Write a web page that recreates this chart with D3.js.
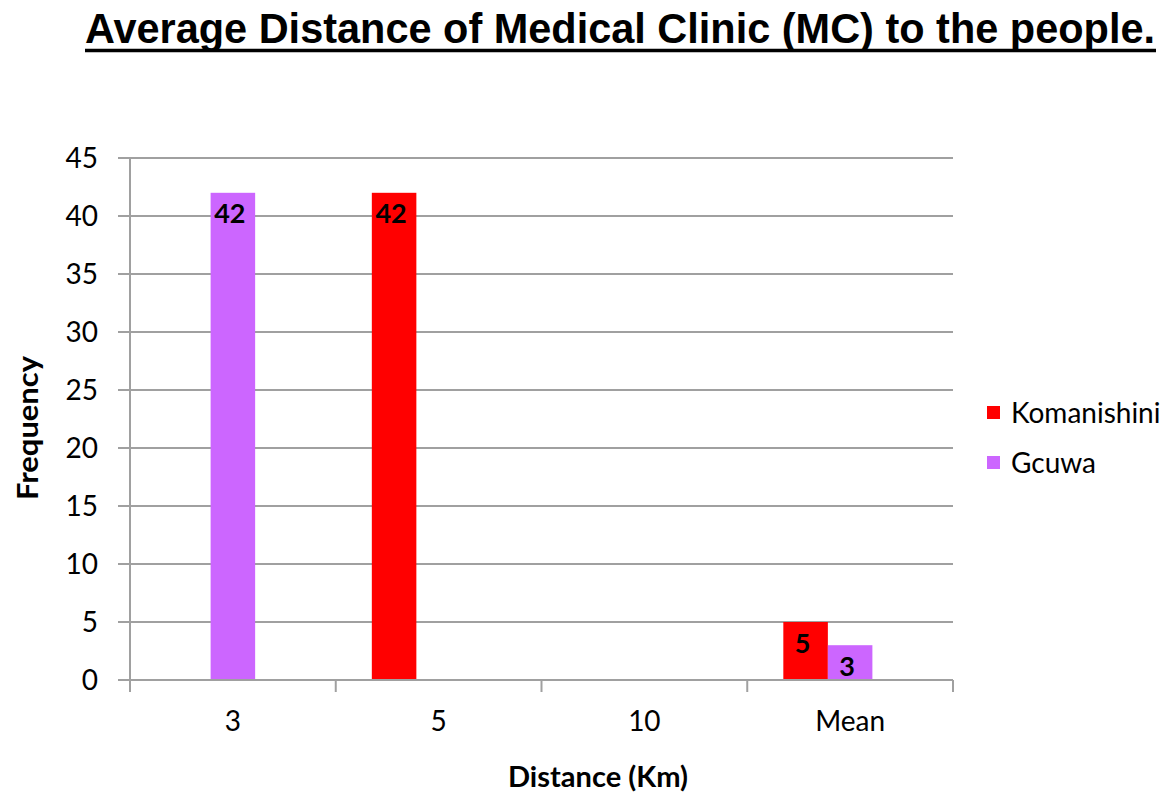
<!DOCTYPE html>
<html>
<head>
<meta charset="utf-8">
<script src="https://cdn.jsdelivr.net/npm/d3@7"></script>
<style>
  html, body { margin: 0; padding: 0; background: #fff; }
  svg { display: block; }
</style>
</head>
<body>
<svg id="chart" width="1175" height="794"></svg>
<script>
// Distance categories and clinic frequencies per village
const categories = ["3", "5", "10", "Mean"];
const seriesNames = ["Komanishini", "Gcuwa"];
const komanishini = [null, 42, null, 5];
const gcuwa = [42, null, null, 3];
const yTicks = [0, 5, 10, 15, 20, 25, 30, 35, 40, 45];
const colors = { Komanishini: "#ff0000", Gcuwa: "#cc66ff" };

const values = { Komanishini: komanishini, Gcuwa: gcuwa };
const font = "Lato, 'Open Sans', sans-serif";

const svg = d3.select("#chart");
const m = { left: 130, right: 953, top: 158, bottom: 680 };

const x0 = d3.scaleBand().domain(categories).range([m.left, m.right]).padding(0);
// each category reserves three bar slots; the third stays empty
const slots = [...seriesNames, "_spare"];
const x1 = d3.scaleBand().domain(slots).range([0, x0.bandwidth()])
  .paddingInner(0).paddingOuter(0.81);
const y = d3.scaleLinear().domain([0, 45]).range([m.bottom, m.top]);

const gridColor = "#a0a0a0";

// horizontal gridlines with short ticks left of the axis
svg.append("g").selectAll("line").data(yTicks).join("line")
  .attr("x1", m.left - 12).attr("x2", m.right)
  .attr("y1", d => y(d)).attr("y2", d => y(d))
  .attr("stroke", gridColor).attr("stroke-width", 2);

// y tick labels
svg.append("g").selectAll("text").data(yTicks).join("text")
  .attr("x", 98).attr("y", d => y(d)).attr("dy", "0.36em")
  .attr("text-anchor", "end")
  .style("font-family", font).style("font-size", "28px").attr("fill", "#000")
  .text(d => d);

// bars
const bars = [];
categories.forEach((c, i) => {
  seriesNames.forEach(s => {
    const v = values[s][i];
    if (v != null) bars.push({ c, s, v });
  });
});

svg.append("g").selectAll("rect").data(bars).join("rect")
  .attr("x", d => x0(d.c) + x1(d.s))
  .attr("width", x1.bandwidth())
  .attr("y", d => y(d.v))
  .attr("height", d => y(0) - y(d.v))
  .attr("fill", d => colors[d.s]);

// value labels inside the top of each bar
svg.append("g").selectAll("text").data(bars).join("text")
  .attr("x", d => x0(d.c) + x1(d.s) + x1.bandwidth() / 2 - 3)
  .attr("y", d => y(d.v) + 10).attr("dy", "0.76em")
  .attr("text-anchor", "middle")
  .style("font-family", font).style("font-size", "27px").style("font-weight", "bold")
  .attr("fill", "#000")
  .text(d => d.v);

// axes lines
svg.append("line")
  .attr("x1", m.left).attr("x2", m.left).attr("y1", m.top).attr("y2", m.bottom)
  .attr("stroke", gridColor).attr("stroke-width", 2);
svg.append("line")
  .attr("x1", m.left).attr("x2", m.right).attr("y1", m.bottom).attr("y2", m.bottom)
  .attr("stroke", gridColor).attr("stroke-width", 2);

// category boundary ticks
const bounds = categories.map(c => x0(c)).concat([m.right]);
svg.append("g").selectAll("line").data(bounds).join("line")
  .attr("x1", d => d).attr("x2", d => d)
  .attr("y1", m.bottom).attr("y2", m.bottom + 12)
  .attr("stroke", gridColor).attr("stroke-width", 2);

// x tick labels
svg.append("g").selectAll("text").data(categories).join("text")
  .attr("x", d => x0(d) + x0.bandwidth() / 2).attr("y", 721).attr("dy", "0.36em")
  .attr("text-anchor", "middle")
  .style("font-family", font).style("font-size", "28px").attr("fill", "#000")
  .text(d => d);

// axis titles
svg.append("text")
  .attr("x", 598).attr("y", 777).attr("dy", "0.36em")
  .attr("text-anchor", "middle")
  .style("font-family", font).style("font-size", "28px").style("font-weight", "bold")
  .attr("textLength", 180).attr("lengthAdjust", "spacingAndGlyphs")
  .text("Distance (Km)");

svg.append("text")
  .attr("transform", "translate(28,428) rotate(-90)")
  .attr("dy", "0.36em")
  .attr("text-anchor", "middle")
  .style("font-family", font).style("font-size", "28px").style("font-weight", "bold")
  .attr("textLength", 144).attr("lengthAdjust", "spacingAndGlyphs")
  .text("Frequency");

// chart title, underlined
svg.append("text")
  .attr("x", 620).attr("y", 43)
  .attr("text-anchor", "middle")
  .style("font-family", "'Liberation Sans', Arial, sans-serif")
  .style("font-size", "42px").style("font-weight", "bold")
  .attr("textLength", 1070).attr("lengthAdjust", "spacingAndGlyphs")
  .text("Average Distance of Medical Clinic (MC) to the people.");
svg.append("line")
  .attr("x1", 85).attr("x2", 1156).attr("y1", 50.5).attr("y2", 50.5)
  .attr("stroke", "#000").attr("stroke-width", 3.5);

// legend
const legend = svg.append("g").selectAll("g").data(seriesNames).join("g")
  .attr("transform", (d, i) => `translate(987,${413 + i * 50})`);
legend.append("rect")
  .attr("x", 0).attr("y", -7).attr("width", 13).attr("height", 13)
  .attr("fill", d => colors[d]);
legend.append("text")
  .attr("x", 24).attr("y", 0).attr("dy", "0.36em")
  .style("font-family", font).style("font-size", "28px").attr("fill", "#000")
  .text(d => d);
</script>
</body>
</html>
